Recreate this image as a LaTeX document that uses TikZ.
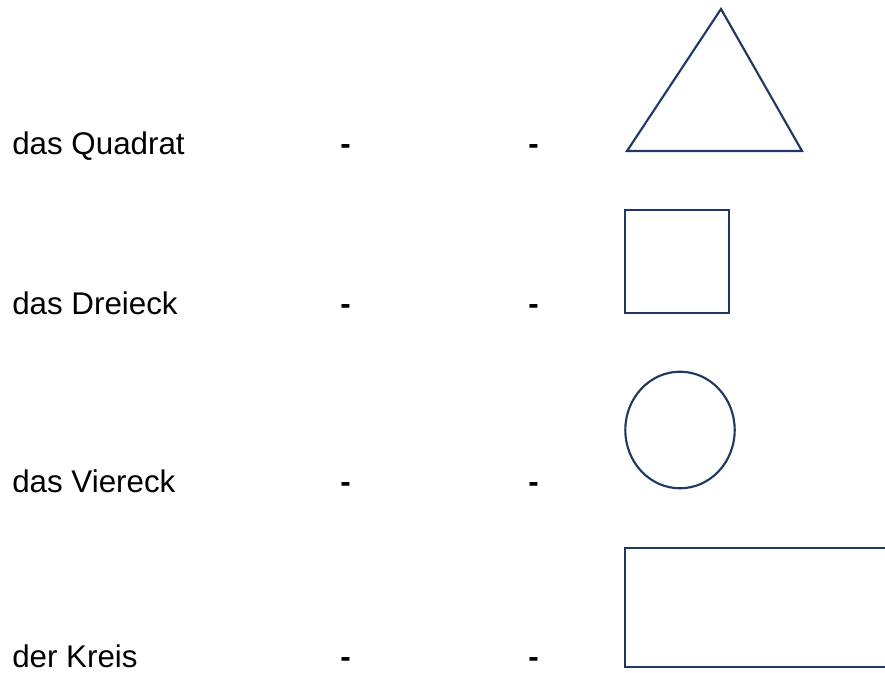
\documentclass[tikz,border=0pt]{standalone}
\usepackage{fontspec}
\setmainfont{Liberation Sans}
\definecolor{shapeblue}{RGB}{31,56,100}

\begin{document}
\begin{tikzpicture}
    [x=0.75pt, y=-0.75pt,
    word/.style={anchor=base west, inner sep=0pt, font=\fontsize{23.5pt}{27pt}\selectfont},
    hyphen/.style={word, font=\fontsize{23.5pt}{27pt}\selectfont\bfseries},
    figure/.style={draw=shapeblue, line width=1.6pt, line join=miter}]
    \useasboundingbox (0,0) rectangle (885,673);
        %% words and dashes
    \node[word] (Q) at (12,155) {das Quadrat};
        \node[hyphen] (Q1) at (340,155) {-};
        \node[hyphen] (Q2) at (528,155) {-};
    \node[word] (D) at (12,315) {das Dreieck};
        \node[hyphen] (D1) at (340,315) {-};
        \node[hyphen] (D2) at (528,315) {-};
    \node[word] (V) at (12,492) {das Viereck};
        \node[hyphen] (V1) at (340,492) {-};
        \node[hyphen] (V2) at (528,492) {-};
    \node[word] (K) at (12,667) {der Kreis};
        \node[hyphen] (K1) at (340,667) {-};
        \node[hyphen] (K2) at (528,667) {-};

        %% shapes
    \draw[figure] (721,9) -- (802,151) -- (627,151) -- cycle;
    \draw[figure] (625,210) rectangle (729,313);
    \draw[figure] (680,430) ellipse [x radius=54.7, y radius=58.3];
    \draw[figure] (625,548) rectangle (895,667);
\end{tikzpicture}
\end{document}
